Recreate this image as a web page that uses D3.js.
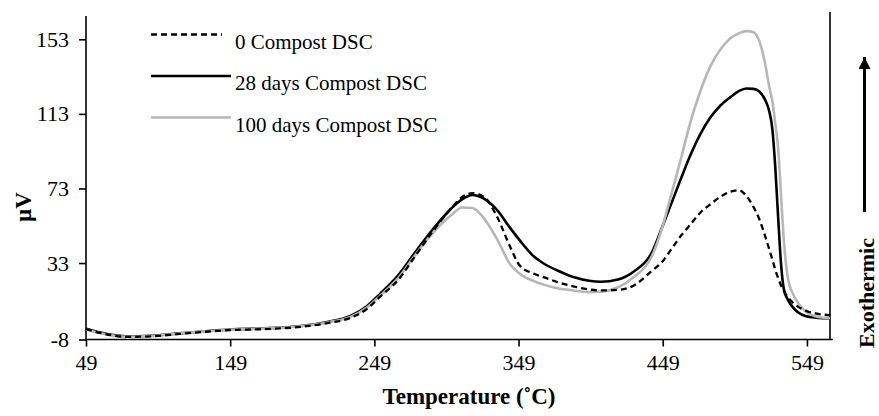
<!DOCTYPE html>
<html>
<head>
<meta charset="utf-8">
<script src="https://cdn.jsdelivr.net/npm/d3@7"></script>
<style>
	body { margin: 0; background: #fff; }
	svg { display: block; }
	text { font-family: "Liberation Serif", "Times New Roman", serif; fill: #000; }
</style>
</head>
<body>
<svg id="chart" width="879" height="416"></svg>
<script>
// temperature (deg C) shared by the three runs
var temps = [49, 59, 69, 79, 94, 114, 134, 149, 170, 198, 218, 232, 244, 253, 265,
	278, 290, 302, 310, 317, 325, 334, 343, 350, 359, 367, 376, 387, 398, 406,
	418, 429, 441, 449, 455, 462, 468, 475, 482, 489, 496, 502, 507, 512, 516,
	520, 523, 525, 527, 529, 531, 533, 536, 539, 543, 548, 555, 565];

var compost0 = [-2.4, -4.5, -6.0, -6.6, -6.3, -5.0, -3.7, -2.9, -2.5, -1.2, 1.0, 3.5, 8.5, 15, 23.5,
	37.5, 50.5, 62, 68.5, 70.5, 68.5, 58, 42, 31.5, 27.5, 25.3, 22.8, 20.5, 18.8, 18.3,
	18.6, 21, 28.5, 34, 40.5, 48, 53.5, 60, 64.5, 68.5, 71.3, 72, 69, 63, 56.5,
	47.5, 40, 35, 29.5, 25, 21, 18, 14.5, 12, 9.5, 7.5, 6, 5];

var compost28 = [-2.2, -4.3, -5.8, -6.4, -6.0, -4.7, -3.4, -2.6, -2.1, -0.8, 1.7, 4.5, 10, 16.5, 26,
	39.5, 51.5, 62, 67.3, 69.5, 67.5, 61.5, 52, 45, 37, 32.5, 29, 25.5, 23.5, 23,
	24.2, 28.5, 38, 53, 65, 79, 90.5, 102, 111, 117.5, 122, 125.3, 126.6, 126.4, 125,
	120.5, 114, 105, 85, 58, 33, 19, 13, 9.5, 6.5, 4.6, 3.7, 3.3];

var compost100 = [-2.6, -4.6, -6.0, -6.6, -6.2, -4.8, -3.5, -2.7, -2.2, -0.9, 1.4, 4.0, 9.3, 15.5, 24.5,
	38, 49.5, 58.5, 62.8, 62.5, 57, 46, 32.5, 27.2, 23.5, 21.3, 19.5, 18.3, 17.4, 17.6,
	20, 25.5, 36, 53, 70, 90, 108, 125, 138.5, 147.5, 153.5, 156.3, 157.4, 156.8, 152,
	140, 127, 120, 108, 95, 70, 45, 24, 17, 11.5, 7, 4.5, 3.4];

var xTicks = [49, 149, 249, 349, 449, 549];
var yTicks = [-8, 33, 73, 113, 153];

var series = [
	{ name: "28 days Compost DSC", values: compost28, color: "#000", width: 2.6, dash: null },
	{ name: "100 days Compost DSC", values: compost100, color: "#b7b7b7", width: 2.6, dash: null },
	{ name: "0 Compost DSC", values: compost0, color: "#000", width: 2.3, dash: "6,4" }
];
var legendOrder = [2, 0, 1];

var svg = d3.select("#chart");

var x = d3.scaleLinear().domain([49, 565]).range([86, 830]);
var y = d3.scaleLinear().domain([-8, 153]).range([339.5, 39.3]);

// axes
var xAxis = svg.append("g")
	.attr("transform", "translate(0,339.5)")
	.call(d3.axisBottom(x).tickValues(xTicks).tickSize(7).tickPadding(8).tickSizeOuter(0)
		.tickFormat(String));
xAxis.select(".domain").attr("d", "M86,0H833");

var yAxis = svg.append("g")
	.attr("transform", "translate(86,0)")
	.call(d3.axisLeft(y).tickValues(yTicks).tickSize(7).tickPadding(10).tickSizeOuter(0)
		.tickFormat(String));
yAxis.select(".domain").attr("d", "M0,16V339.5");

svg.selectAll(".tick text")
	.attr("font-family", "Liberation Serif, Times New Roman, serif")
	.attr("font-size", 22);
svg.selectAll(".domain, .tick line").attr("stroke", "#000").attr("stroke-width", 1.6);

// right frame line
svg.append("line")
	.attr("x1", 830).attr("x2", 830)
	.attr("y1", 12).attr("y2", 339.5)
	.attr("stroke", "#000").attr("stroke-width", 1.6);

// curves
var line = d3.line()
	.x(function(d, i) { return x(temps[i]); })
	.y(function(d) { return y(d); })
	.curve(d3.curveMonotoneX);

svg.selectAll(".curve")
	.data(series)
	.enter()
	.append("path")
	.attr("class", "curve")
	.attr("d", function(d) { return line(d.values); })
	.attr("fill", "none")
	.attr("stroke", function(d) { return d.color; })
	.attr("stroke-width", function(d) { return d.width; })
	.attr("stroke-dasharray", function(d) { return d.dash; });

// legend
var legend = svg.selectAll(".legend")
	.data(legendOrder.map(function(i) { return series[i]; }))
	.enter()
	.append("g")
	.attr("class", "legend")
	.attr("transform", function(d, i) { return "translate(151," + (34.5 + i * 41.5) + ")"; });

legend.append("line")
	.attr("x1", 0)
	.attr("x2", function(d) { return d.dash ? 71 : 80; })
	.attr("y1", 0).attr("y2", 0)
	.attr("stroke", function(d) { return d.color; })
	.attr("stroke-width", function(d) { return d.width; })
	.attr("stroke-dasharray", function(d) { return d.dash; });

legend.append("text")
	.attr("x", 84)
	.attr("y", 14)
	.attr("font-size", 21)
	.text(function(d) { return d.name; });

// axis titles
svg.append("text")
	.attr("x", 469)
	.attr("y", 404)
	.attr("text-anchor", "middle")
	.attr("font-size", 23)
	.attr("font-weight", "bold")
	.text("Temperature (\u02DAC)");

svg.append("text")
	.attr("transform", "translate(31,207) rotate(-90)")
	.attr("text-anchor", "middle")
	.attr("font-size", 23)
	.attr("font-weight", "bold")
	.text("\u00B5V");

svg.append("text")
	.attr("transform", "translate(874,293) rotate(-90)")
	.attr("text-anchor", "middle")
	.attr("font-size", 22)
	.attr("font-weight", "bold")
	.text("Exothermic");

// exothermic arrow
svg.append("defs").append("marker")
	.attr("id", "arrow")
	.attr("viewBox", "0 -5 10 10")
	.attr("refX", 10)
	.attr("markerWidth", 4)
	.attr("markerHeight", 4)
	.attr("orient", "auto")
	.append("path")
	.attr("d", "M0,-5L10,0L0,5Z")
	.attr("fill", "#000");

svg.append("line")
	.attr("x1", 864.5).attr("x2", 864.5)
	.attr("y1", 212).attr("y2", 57)
	.attr("stroke", "#000")
	.attr("stroke-width", 3)
	.attr("marker-end", "url(#arrow)");
</script>
</body>
</html>
